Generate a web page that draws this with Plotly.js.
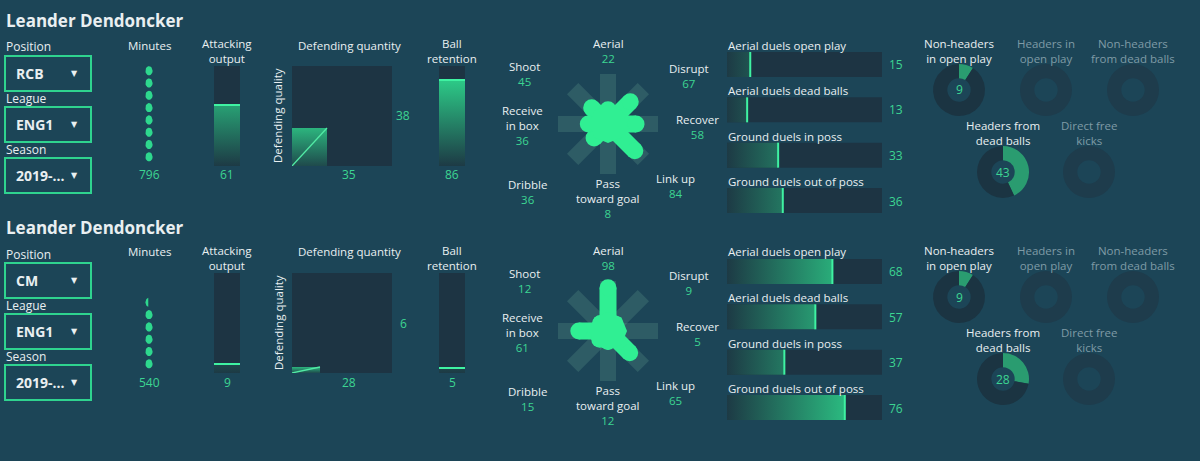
<!DOCTYPE html>
<html><head><meta charset="utf-8">
<script src="https://cdn.plot.ly/plotly-3.0.1.min.js"></script>
<style>html,body{margin:0;padding:0;background:#1c4557;}#chart{width:1200px;height:461px;}</style>
</head><body><div id="chart"></div>
<script>
// ---------- DATA ----------
const playerName = "Leander Dendoncker";
const positions = ["RCB", "CM"];
const leagues = ["ENG1", "ENG1"];
const seasons = ["2019-...", "2019-..."];
const minutes = [796, 540];
const attackingOutput = [61, 9];
const defendingQuantity = [35, 28];
const defendingQuality = [38, 6];
const ballRetention = [86, 5];
const styleLabels = ["Aerial", "Disrupt", "Recover", "Link up", "Pass<br>toward goal", "Dribble", "Receive<br>in box", "Shoot"];
const styleValuesTop = [22, 67, 58, 84, 8, 36, 36, 45];
const styleValuesBottom = [98, 9, 5, 65, 12, 15, 61, 12];
const duelLabels = ["Aerial duels open play", "Aerial duels dead balls", "Ground duels in poss", "Ground duels out of poss"];
const duelValuesTop = [15, 13, 33, 36];
const duelValuesBottom = [68, 57, 37, 76];
const setPieceLabels = ["Non-headers<br>in open play", "Headers in<br>open play", "Non-headers<br>from dead balls", "Headers from<br>dead balls", "Direct free<br>kicks"];
const setPieceValuesTop = [9, null, null, 43, null];
const setPieceValuesBottom = [9, null, null, 28, null];

const styleValues = [styleValuesTop, styleValuesBottom];
const duelValues = [duelValuesTop, duelValuesBottom];
const setPieceValues = [setPieceValuesTop, setPieceValuesBottom];

// ---------- STYLE ----------
const W = 1200, H = 461;
const BG = '#1c4557', PANEL = '#1d3443';
const WHITE = '#e9eff1', GREY = '#7f9ba6', GTXT = '#3cd592';
const GDARK = '#1d3a45', GLIGHT = '#2fe292', GLINE = '#3ff2a2';
const STAR = '#30ef93', FONT = "'Open Sans', sans-serif";

const layout = {width: W, height: H, margin: {l:0, r:0, t:0, b:0}, paper_bgcolor: BG,
  plot_bgcolor: 'rgba(0,0,0,0)', showlegend: false, annotations: [], shapes: [], hovermode: false};
const traces = [];
let axN = 0;
function axes(x0, x1, y0, y1, xr, yr) {
  axN++; const k = axN === 1 ? '' : axN;
  layout['xaxis' + k] = {domain: [x0 / W, x1 / W], range: xr, visible: false, fixedrange: true, anchor: 'y' + k};
  layout['yaxis' + k] = {domain: [1 - y1 / H, 1 - y0 / H], range: yr, visible: false, fixedrange: true, anchor: 'x' + k};
  return {xaxis: 'x' + k, yaxis: 'y' + k, xref: 'x' + k, yref: 'y' + k};
}
function txt(x, y, text, o) {
  o = o || {};
  layout.annotations.push({xref: 'paper', yref: 'paper', x: x / W, y: 1 - y / H, text: o.bold ? '<b>' + text + '</b>' : text,
    showarrow: false, xanchor: o.anchor || 'center', yanchor: 'middle', textangle: o.angle || 0, borderpad: 0,
    font: {family: o.family || FONT, size: o.size || 12, color: o.color || WHITE}});
}
// multi-line text: first line centre at yFirst, reference line step ~12.5px
function mtxt(x, yFirst, parts, colors, size) {
  const n = parts.length;
  const html = parts.map((p, i) => colors[i] ? '<span style="color:' + colors[i] + '">' + p + '</span>' : p).join('<br>');
  txt(x, yFirst + (n - 1) * 6.25, html, {size: size || 11.5});
}
function rect(ax, x0, x1, y0, y1, fill) {
  layout.shapes.push({type: 'rect', xref: ax.xref, yref: ax.yref, x0, x1, y0, y1, fillcolor: fill, line: {width: 0}, layer: 'below'});
}
function vbar(ax, v) {
  rect(ax, 0, 1, 0, 100, PANEL);
  traces.push({type: 'scatter', xaxis: ax.xaxis, yaxis: ax.yaxis, x: [0, 1, 1, 0], y: [0, 0, v, v], fill: 'toself', mode: 'lines',
    line: {width: 0}, fillgradient: {type: 'vertical', start: 0, stop: 100, colorscale: [[0, GDARK], [1, GLIGHT]]}});
  traces.push({type: 'scatter', xaxis: ax.xaxis, yaxis: ax.yaxis, x: [0, 1], y: [v, v], mode: 'lines', line: {color: GLINE, width: 2}});
}

for (let s = 0; s < 2; s++) {
  const dy = s * 207;
  // header & dropdowns
  txt(5, 20 + dy, playerName, {anchor: 'left', bold: true, size: 17});
  const ddLabels = ['Position', 'League', 'Season'];
  const ddValues = [positions[s], leagues[s], seasons[s]];
  const ddTop = [56, 107, 158];
  ddLabels.forEach((lab, i) => {
    const t = ddTop[i] + dy;
    txt(5, t - 9, lab, {anchor: 'left', size: 12});
    layout.shapes.push({type: 'rect', xref: 'paper', yref: 'paper', x0: 5 / W, x1: 91 / W, y0: 1 - (t + 35) / H, y1: 1 - t / H,
      line: {color: '#2fd38f', width: 2}, fillcolor: 'rgba(0,0,0,0)'});
    txt(15, t + 17.5, ddValues[i], {anchor: 'left', bold: true, size: 14});
    txt(74, t + 17.5, '▼', {size: 8, family: 'DejaVu Sans'});
  });

  // Minutes dots
  txt(149, 45 + dy, 'Minutes', {size: 11.5});
  const axM = axes(139, 159, 63 + dy, 163 + dy, [-10, 10], [0, 813]);
  const dx = [], dyy = [];
  const rx = 3.6, ry = 4.6 * 8.13;
  const nd = Math.ceil(minutes[s] / 100);
  for (let i = 0; i < nd; i++) {
    const frac = Math.min(1, minutes[s] / 100 - i);
    const f = frac > 0.9 ? 1 : frac;
    const xc = -rx + 2 * rx * f;
    const th0 = Math.acos(Math.max(-1, Math.min(1, xc / rx)));
    const cy = 50 + 100 * i;
    for (let k = 0; k <= 24; k++) {
      const th = th0 + (2 * Math.PI - 2 * th0) * k / 24;
      dx.push(rx * Math.cos(th)); dyy.push(cy + ry * Math.sin(th));
    }
    dx.push(null); dyy.push(null);
  }
  traces.push({type: 'scatter', xaxis: axM.xaxis, yaxis: axM.yaxis, x: dx, y: dyy, fill: 'toself', fillcolor: '#2ed88e', mode: 'lines', line: {width: 0}});
  txt(149, 175 + dy, String(minutes[s]), {color: GTXT});

  // Attacking output
  mtxt(227, 45 + dy, ['Attacking', 'output'], []);
  vbar(axes(214, 240, 66 + dy, 166 + dy, [0, 1], [0, 100]), attackingOutput[s]);
  txt(227, 175 + dy, String(attackingOutput[s]), {color: GTXT});

  // Defending square
  txt(349, 45 + dy, 'Defending quantity', {size: 11.5});
  txt(278, 116 + dy, 'Defending quality', {angle: -90, size: 11.5});
  const axD = axes(292, 392, 66 + dy, 166 + dy, [0, 100], [0, 100]);
  rect(axD, 0, 100, 0, 100, PANEL);
  const q = defendingQuantity[s], Q = defendingQuality[s];
  traces.push({type: 'scatter', xaxis: axD.xaxis, yaxis: axD.yaxis, x: [0, q, q, 0], y: [0, 0, Q, Q], fill: 'toself', mode: 'lines',
    line: {width: 0}, fillgradient: {type: 'vertical', colorscale: [[0, '#1f4a4c'], [1, '#2cb57e']]}});
  traces.push({type: 'scatter', xaxis: axD.xaxis, yaxis: axD.yaxis, x: [0, q], y: [0, Q], mode: 'lines', line: {color: '#52eaa5', width: 1.3}});
  txt(403, 116 + dy, String(Q), {color: GTXT});
  txt(349, 175 + dy, String(q), {color: GTXT});

  // Ball retention
  mtxt(452, 45 + dy, ['Ball', 'retention'], []);
  vbar(axes(439, 465, 66 + dy, 166 + dy, [0, 1], [0, 100]), ballRetention[s]);
  txt(452, 175 + dy, String(ballRetention[s]), {color: GTXT});

  // Star
  const cx = 608, cy = 124 + dy;
  const axS = axes(cx - 60, cx + 60, cy - 60, cy + 60, [-60, 60], [-60, 60]);
  const angles = [90, 45, 0, -45, -90, -135, 180, 135];
  const bx = [], by = [];
  [90, 45, 0, -45].forEach(a => {
    const c = Math.cos(a * Math.PI / 180), sn = Math.sin(a * Math.PI / 180);
    bx.push(-50 * c, 50 * c, null); by.push(-50 * sn, 50 * sn, null);
  });
  traces.push({type: 'scatter', xaxis: axS.xaxis, yaxis: axS.yaxis, x: bx, y: by, mode: 'lines', line: {color: 'rgba(120,185,160,0.2)', width: 16}});
  const sx = [], sy = [], tx = [], ty = [];
  styleValues[s].forEach((v, i) => {
    const r = 6 + 0.38 * v;
    const c = Math.cos(angles[i] * Math.PI / 180), sn = Math.sin(angles[i] * Math.PI / 180);
    sx.push(0, r * c, null); sy.push(0, r * sn, null);
    tx.push(r * c); ty.push(r * sn);
  });
  traces.push({type: 'scatter', xaxis: axS.xaxis, yaxis: axS.yaxis, x: sx, y: sy, mode: 'lines', line: {color: STAR, width: 17}});
  traces.push({type: 'scatter', xaxis: axS.xaxis, yaxis: axS.yaxis, x: tx, y: ty, mode: 'markers', marker: {color: STAR, size: 17, line: {width: 0}}});
  traces.push({type: 'scatter', xaxis: axS.xaxis, yaxis: axS.yaxis, x: [0], y: [0], mode: 'markers', marker: {color: STAR, size: 38, symbol: 'octagon', angle: 22.5, line: {width: 0}}});
  const labPos = [[0, -79], [81, -54], [89, -3], [67, 56], [0, 62], [-81, 62], [-86, -11], [-84, -56]];
  styleLabels.forEach((lab, i) => {
    const parts = lab.split('<br>');
    const colors = parts.map(() => null);
    parts.push(String(styleValues[s][i])); colors.push(GTXT);
    mtxt(cx + labPos[i][0], cy + labPos[i][1], parts, colors);
  });

  // Duel bars
  const axB = axes(727, 882, 52 + dy, 213 + dy, [0, 100], [3.276, -0.276]);
  const hh = 0.276;
  duelLabels.forEach((lab, i) => {
    const v = duelValues[s][i];
    rect(axB, 0, 100, i - hh, i + hh, PANEL);
    traces.push({type: 'scatter', xaxis: axB.xaxis, yaxis: axB.yaxis, x: [0, v, v, 0], y: [i - hh, i - hh, i + hh, i + hh], fill: 'toself', mode: 'lines',
      line: {width: 0}, fillgradient: {type: 'horizontal', start: 0, stop: 100, colorscale: [[0, GDARK], [1, GLIGHT]]}});
    traces.push({type: 'scatter', xaxis: axB.xaxis, yaxis: axB.yaxis, x: [v, v], y: [i - hh, i + hh], mode: 'lines', line: {color: GLINE, width: 2}});
    const rowY = 64.5 + i * 45.5 + dy;
    txt(727, rowY - 19.5, lab, {anchor: 'left', size: 11.5});
    txt(896, rowY, String(v), {color: GTXT});
  });

  // Set-piece donuts
  const dPos = [[959, 90], [1046, 90], [1133, 90], [1003, 172], [1089, 172]];
  const titleY = [45, 45, 45, 127, 127];
  setPieceLabels.forEach((lab, i) => {
    const v = setPieceValues[s][i];
    const active = v !== null;
    const col = active ? WHITE : GREY;
    mtxt(dPos[i][0], titleY[i] + dy, lab.split('<br>'), [col, col]);
    const R = 26, X = dPos[i][0], Y = dPos[i][1] + dy;
    traces.push({type: 'pie', domain: {x: [(X - R) / W, (X + R) / W], y: [1 - (Y + R) / H, 1 - (Y - R) / H]},
      values: active ? [v, 100 - v] : [100], sort: false, direction: 'clockwise', rotation: 0, hole: 0.45,
      marker: {colors: active ? ['#2a9c70', '#1b3442'] : ['#1e3c4c'], line: {width: 0}}, textinfo: 'none', hoverinfo: 'skip', showlegend: false});
    if (active) txt(X, Y, String(v), {color: GTXT});
  });
}

Plotly.newPlot('chart', traces, layout, {staticPlot: true, displayModeBar: false});
</script></body></html>
